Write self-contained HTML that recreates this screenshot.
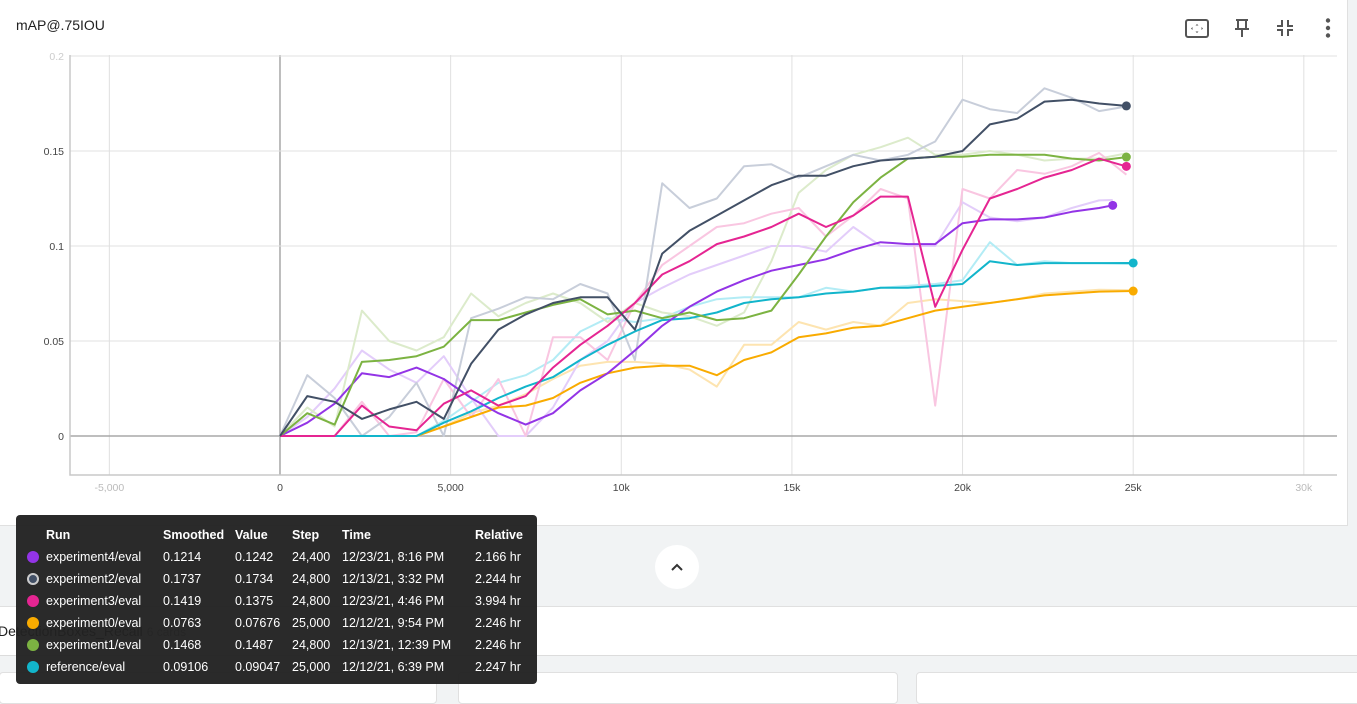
<!DOCTYPE html>
<html><head><meta charset="utf-8">
<style>
html,body{margin:0;padding:0;width:1357px;height:689px;overflow:hidden;background:#f1f3f4;font-family:"Liberation Sans",sans-serif;}
#card{position:absolute;left:0;top:0;width:1347px;height:525px;background:#fff;border-right:1px solid #e0e0e0;border-bottom:1px solid #e0e0e0;}
#title{position:absolute;left:16px;top:17px;font-size:14px;color:#212121;}
.icon{position:absolute;top:17px;}
#band{position:absolute;left:0;top:606px;width:1357px;height:48px;background:#fff;border-top:1px solid #e0e0e0;border-bottom:1px solid #dcdcdc;}
#bandtext{position:absolute;left:-2px;top:623px;font-size:14px;color:#212121;}
#bandtext span{color:#888;font-size:12px;margin-left:4px;}
.sub{position:absolute;top:672px;height:30px;background:#fff;border:1px solid #e0e0e0;border-radius:4px;}
#up{position:absolute;left:655px;top:545px;width:44px;height:44px;border-radius:22px;background:#fff;}
#tip{position:absolute;left:16px;top:515px;width:521px;height:169px;background:rgba(33,33,33,0.96);border-radius:4px;color:#fff;font-size:12.5px;}
#tip table{border-collapse:collapse;position:absolute;left:11px;top:9px;}
#tip td{padding:0 4px 0 0;height:22px;white-space:nowrap;}
#tip th{text-align:left;font-weight:bold;padding:0 4px 0 0;height:22px;white-space:nowrap;}
.dot{display:inline-block;width:12px;height:12px;border-radius:7px;vertical-align:-2px;}
</style></head><body>
<div id="card">
<div id="title">mAP@.75IOU</div>
<svg class="icon" style="left:1185px" width="24" height="24"><rect x="1" y="3" width="22" height="17" rx="2" fill="none" stroke="#555" stroke-width="2"/><path d="M12 7l-1.5 1.5h3zM12 16l-1.5-1.5h3zM6 11.5l1.5-1.5v3zM18 11.5l-1.5-1.5v3z" fill="#555"/></svg>
<svg class="icon" style="left:1232px" width="20" height="22"><path d="M4 3h12M6 3v8M14 3v8M3 12h14M10 12v8" stroke="#555" stroke-width="2" fill="none"/></svg>
<svg class="icon" style="left:1275px" width="20" height="22"><path d="M7 3v6H2M13 3v6h5M7 19v-6H2M13 19v-6h5" stroke="#555" stroke-width="2" fill="none"/></svg>
<svg class="icon" style="left:1320px" width="16" height="22"><circle cx="8" cy="3.5" r="2.2" fill="#555"/><circle cx="8" cy="11" r="2.2" fill="#555"/><circle cx="8" cy="18.5" r="2.2" fill="#555"/></svg>
<svg id="chart" width="1347" height="525" style="position:absolute;left:0;top:0"></svg>
</div>
<div id="up"><svg width="44" height="44"><path d="M17 25l5-5 5 5" stroke="#333" stroke-width="2" fill="none"/></svg></div>
<div id="band"></div>
<div id="bandtext">DetectionBoxes_Recall<span>6 cards</span></div>
<div class="sub" style="left:-1px;width:436px"></div>
<div class="sub" style="left:458px;width:438px"></div>
<div class="sub" style="left:916px;width:445px"></div>
<div id="tip">
<table>
<tr><th style="width:15px"></th><th style="width:113px">Run</th><th style="width:68px">Smoothed</th><th style="width:53px">Value</th><th style="width:46px">Step</th><th style="width:129px">Time</th><th>Relative</th></tr>
<tr><td><span class="dot" style="background:#9334e6"></span></td><td>experiment4/eval</td><td>0.1214</td><td>0.1242</td><td>24,400</td><td>12/23/21, 8:16 PM</td><td>2.166 hr</td></tr>
<tr><td><span class="dot" style="background:#425066;box-shadow:inset 0 0 0 2px #ccc"></span></td><td>experiment2/eval</td><td>0.1737</td><td>0.1734</td><td>24,800</td><td>12/13/21, 3:32 PM</td><td>2.244 hr</td></tr>
<tr><td><span class="dot" style="background:#e52592"></span></td><td>experiment3/eval</td><td>0.1419</td><td>0.1375</td><td>24,800</td><td>12/23/21, 4:46 PM</td><td>3.994 hr</td></tr>
<tr><td><span class="dot" style="background:#f9ab00"></span></td><td>experiment0/eval</td><td>0.0763</td><td>0.07676</td><td>25,000</td><td>12/12/21, 9:54 PM</td><td>2.246 hr</td></tr>
<tr><td><span class="dot" style="background:#7cb342"></span></td><td>experiment1/eval</td><td>0.1468</td><td>0.1487</td><td>24,800</td><td>12/13/21, 12:39 PM</td><td>2.246 hr</td></tr>
<tr><td><span class="dot" style="background:#12b5cb"></span></td><td>reference/eval</td><td>0.09106</td><td>0.09047</td><td>25,000</td><td>12/12/21, 6:39 PM</td><td>2.247 hr</td></tr>
</table></div>
<script>
const stepsA=[0,800,1600,2400,3200,4000,4800,5600,6400,7200,8000,8800,9600,10400,11200,12000,12800,13600,14400,15200,16000,16800,17600,18400,19200,20000,20800,21600,22400,23200,24000,24800];
const stepsB=[0,800,1600,2400,3200,4000,4800,5600,6400,7200,8000,8800,9600,10400,11200,12000,12800,13600,14400,15200,16000,16800,17600,18400,19200,20000,20800,21600,22400,23200,24000,24400];
const stepsC=[0,800,1600,2400,3200,4000,4800,5600,6400,7200,8000,8800,9600,10400,11200,12000,12800,13600,14400,15200,16000,16800,17600,18400,19200,20000,20800,21600,22400,23200,24000,25000];
const exp2Smooth=[0,0.021,0.018,0.009,0.014,0.018,0.009,0.038,0.056,0.064,0.070,0.073,0.073,0.056,0.096,0.108,0.116,0.124,0.132,0.137,0.137,0.142,0.145,0.146,0.147,0.150,0.164,0.167,0.176,0.177,0.175,0.1737];
const exp2Raw=[0,0.032,0.02,0,0.01,0.028,0,0.062,0.067,0.073,0.072,0.08,0.075,0.04,0.133,0.12,0.125,0.142,0.143,0.136,0.142,0.148,0.145,0.148,0.155,0.177,0.172,0.17,0.183,0.178,0.171,0.1734];
const exp1Smooth=[0,0.012,0.006,0.039,0.040,0.042,0.047,0.061,0.061,0.065,0.069,0.072,0.064,0.066,0.062,0.065,0.061,0.062,0.066,0.085,0.105,0.123,0.136,0.146,0.147,0.147,0.148,0.148,0.148,0.146,0.145,0.1468];
const exp1Raw=[0,0.015,0.005,0.066,0.05,0.045,0.052,0.075,0.063,0.07,0.075,0.07,0.06,0.07,0.065,0.063,0.058,0.065,0.092,0.128,0.14,0.148,0.152,0.157,0.148,0.148,0.15,0.148,0.145,0.146,0.146,0.1487];
const exp3Smooth=[0,0,0,0.016,0.005,0.003,0.017,0.024,0.016,0.021,0.036,0.048,0.058,0.07,0.085,0.092,0.101,0.105,0.11,0.117,0.11,0.116,0.126,0.126,0.068,0.098,0.125,0.13,0.136,0.14,0.146,0.1419];
const exp3Raw=[0,0,0,0.018,0,0.002,0.03,0.01,0.03,0,0.052,0.052,0.04,0.07,0.09,0.1,0.11,0.112,0.117,0.12,0.105,0.116,0.13,0.125,0.016,0.13,0.125,0.14,0.138,0.142,0.149,0.1375];
const exp4Smooth=[0,0.007,0.017,0.033,0.031,0.036,0.03,0.02,0.012,0.006,0.012,0.024,0.033,0.045,0.058,0.068,0.076,0.082,0.087,0.09,0.093,0.098,0.102,0.101,0.101,0.112,0.114,0.114,0.115,0.118,0.12,0.1214];
const exp4Raw=[0,0.01,0.025,0.045,0.035,0.028,0.042,0.02,0,0,0.015,0.04,0.05,0.07,0.078,0.085,0.09,0.095,0.1,0.1,0.097,0.11,0.1,0.1,0.1,0.123,0.115,0.113,0.115,0.12,0.124,0.1242];
const exp0Smooth=[0,0,0,0,0,0,0.005,0.01,0.015,0.016,0.02,0.028,0.033,0.036,0.037,0.037,0.032,0.04,0.044,0.052,0.054,0.057,0.058,0.062,0.066,0.068,0.07,0.072,0.074,0.075,0.076,0.0763];
const exp0Raw=[0,0,0,0,0,0,0.005,0.012,0.016,0.022,0.03,0.037,0.039,0.039,0.038,0.035,0.026,0.048,0.048,0.06,0.056,0.06,0.058,0.07,0.072,0.071,0.07,0.072,0.075,0.076,0.077,0.07676];
const refSmooth=[0,0,0,0,0,0,0.007,0.013,0.02,0.026,0.031,0.04,0.048,0.055,0.061,0.062,0.065,0.07,0.072,0.073,0.075,0.076,0.078,0.078,0.079,0.08,0.092,0.09,0.091,0.091,0.091,0.09106];
const refRaw=[0,0,0,0,0,0,0.008,0.018,0.028,0.032,0.04,0.055,0.062,0.06,0.062,0.068,0.072,0.073,0.073,0.073,0.078,0.076,0.078,0.079,0.08,0.082,0.102,0.09,0.092,0.091,0.091,0.09047];
const xTicks=[-5000,0,5000,10000,15000,20000,25000,30000];
const xTickLabels=["-5,000","0","5,000","10k","15k","20k","25k","30k"];
const yTicks=[0,0.05,0.1,0.15,0.2];
const yTickLabels=["0","0.05","0.1","0.15","0.2"];

const NS="http://www.w3.org/2000/svg";
const svg=document.getElementById('chart');
const X0=70,X1=1337,Y0=55,Y1=475;
const xDom=[-6153,30972], yDom=[-0.0205,0.2005];
function xs(s){return X0+(s-xDom[0])/(xDom[1]-xDom[0])*(X1-X0);}
function ys(v){return Y1-(v-yDom[0])/(yDom[1]-yDom[0])*(Y1-Y0);}
function mk(tag,attrs){const e=document.createElementNS(NS,tag);for(const k in attrs)e.setAttribute(k,attrs[k]);svg.appendChild(e);return e;}

xTicks.forEach((t,i)=>{
  const l=mk('line',{x1:xs(t),x2:xs(t),y1:Y0,y2:Y1,stroke:t===0?'#a8a8a8':'#e0e0e0','stroke-width':t===0?1.5:1});
  
  
  const tx=mk('text',{x:xs(t),y:491,'text-anchor':'middle','font-size':'10.5',fill:(i===0||i===xTicks.length-1)?'#bbb':'#444','font-family':'Liberation Sans, sans-serif'});
  tx.textContent=xTickLabels[i];
  
  
});
yTicks.forEach((t,i)=>{
  const l=mk('line',{x1:X0,x2:X1,y1:ys(t),y2:ys(t),stroke:t===0?'#a8a8a8':'#e0e0e0','stroke-width':t===0?1.5:1});
  
  
  const tx=mk('text',{x:64,y:ys(t)+4,'text-anchor':'end','font-size':'10.5',fill:i===yTicks.length-1?'#ccc':'#444','font-family':'Liberation Sans, sans-serif'});
  tx.textContent=yTickLabels[i];
  
  
});
const ax=mk('path',{d:`M${X0} ${Y0}V${Y1}H${X1}`,fill:'none',stroke:'#c8c8c8','stroke-width':1.5});



const series=[
 {name:'experiment0',steps:stepsC,raw:exp0Raw,sm:exp0Smooth,c:'#f9ab00',lc:'#fde4b0'},
 {name:'reference',steps:stepsC,raw:refRaw,sm:refSmooth,c:'#12b5cb',lc:'#b3ecf5'},
 {name:'experiment4',steps:stepsB,raw:exp4Raw,sm:exp4Smooth,c:'#9334e6',lc:'#e3cdfa'},
 {name:'experiment1',steps:stepsA,raw:exp1Raw,sm:exp1Smooth,c:'#7cb342',lc:'#dcebcb'},
 {name:'experiment3',steps:stepsA,raw:exp3Raw,sm:exp3Smooth,c:'#e52592',lc:'#f9c6e1'},
 {name:'experiment2',steps:stepsA,raw:exp2Raw,sm:exp2Smooth,c:'#425066',lc:'#c8ceda'}
];
function pts(st,v){return v.map((y,i)=>xs(st[i]).toFixed(1)+','+ys(y).toFixed(1)).join(' ');}
series.forEach(s=>{
  const r=mk('polyline',{points:pts(s.steps,s.raw),fill:'none',stroke:s.lc,'stroke-width':2,'stroke-linejoin':'round'});
  
  
});
series.forEach(s=>{
  const p=mk('polyline',{points:pts(s.steps,s.sm),fill:'none',stroke:s.c,'stroke-width':2,'stroke-linejoin':'round'});
  
  
  const n=s.sm.length-1;
  const d=mk('circle',{cx:xs(s.steps[n]),cy:ys(s.sm[n]),r:4.5,fill:s.c});
  
  
});
</script>
</body></html>
